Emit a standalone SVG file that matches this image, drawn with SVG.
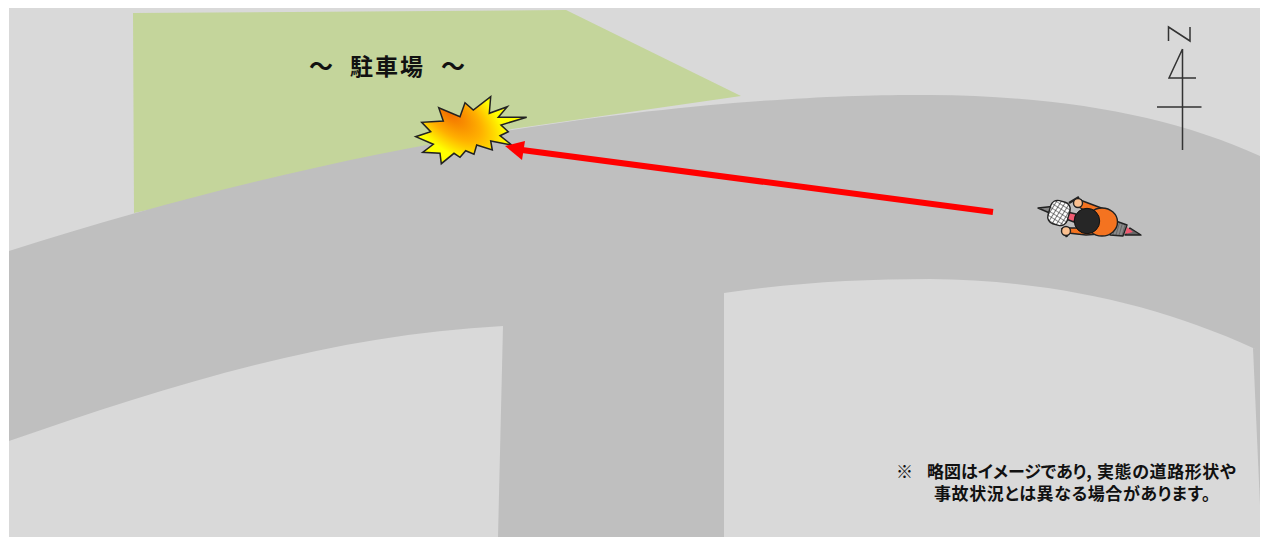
<svg xmlns="http://www.w3.org/2000/svg" width="1267" height="537" viewBox="0 0 1267 537">
<style>
.t{font-family:"Noto Sans CJK JP","Liberation Sans",sans-serif;font-weight:700;fill:#111;font-feature-settings:"palt"}
.n{fill:none;stroke:#333;stroke-width:1.5}
.o{stroke:#222;stroke-width:1.4;stroke-linejoin:round}
</style>
<defs>
<radialGradient id="b" gradientUnits="userSpaceOnUse" cx="0" cy="0" r="1" gradientTransform="translate(449 112) rotate(40) scale(70 34)"><stop offset="0" stop-color="#f26c00"/><stop offset="0.55" stop-color="#ffb000"/><stop offset="1" stop-color="#ffff00"/></radialGradient>
<pattern id="c" width="4" height="4" patternUnits="userSpaceOnUse" patternTransform="rotate(16)"><rect width="4" height="4" fill="#fff"/><path d="M0 0H4M0 0V4" stroke="#222" stroke-width="1.200"/></pattern>
<pattern id="h" width="3" height="3" patternUnits="userSpaceOnUse" patternTransform="rotate(16)"><rect width="3" height="3" fill="#8a8a8a"/><path d="M0 0V3" stroke="#444" stroke-width="1"/></pattern>
</defs>
<rect width="1267" height="537" fill="#fff"/>
<g id="ground"><rect x="9" y="8" width="1251" height="529" fill="#d9d9d9"/></g>
<g id="parking"><path d="M133 13L566 10L741 96L512 129L134 213Z" fill="#c4d59b"/></g>
<g id="road"><path d="M9 251C180 197 330 160 512 130C700 100 850 94 930 95C1060 96 1170 115 1260 156V351L1253 348C1160 305 1050 280 930 279C860 279 790 283 724 293V537H498L503 326C330 335 170 385 9 441Z" fill="#bfbfbf"/>
<path d="M1253 348L1260 350V505Z" fill="#bfbfbf"/></g>
<g id="north">
<path class="n" d="M1168.500 41V27L1190 41V27M1182.500 49V150M1182.500 49L1169 78H1196M1157 107H1201.500"/>
</g>
<g id="burst"><path d="M438.700 107.700L460 116.700L465 102.700L473.300 110L490.700 96.700L489.300 113.300L507.300 106.700L498.300 117.300L526.700 117.300L501 125L508.300 131.700L500 135.700L511.700 145L490.700 141L492.300 150L476.700 145L474 154.300L465.700 150.700L460 157.300L454 153.300L441.300 163.700L440 153.300L422.700 152.300L433.300 144.300L415.700 136.700L430.700 131.700L421.700 122.300L443.300 121Z" fill="url(#b)" stroke="#222" stroke-width="1.500"/></g>
<g id="connectors"><path d="M993 212L522 150" stroke="#ff0000" stroke-width="6" fill="none"/><path d="M505 146L525 141L522 160Z" fill="#ff0000"/></g>
<g id="rider">
<path d="M1038 208L1052 206.500L1052 214Z" fill="#888" class="o"/>
<path d="M1130 228L1141 235L1125 235Z" fill="#666" class="o"/>
<path d="M1127 227L1133 232L1125 234Z" fill="#f05a70"/>
<path d="M1113 220L1127 225L1123 236L1110 235Z" fill="url(#h)" class="o"/>
<path d="M1067 212L1076 214L1074 222L1066 219Z" fill="#f05a70" class="o"/>
<path d="M1079 197L1069 203M1062 228L1067 237" stroke="#222" stroke-width="2.500" fill="none"/>
<rect x="1049" y="201" width="20" height="24" rx="7" transform="rotate(16 1059 213)" fill="url(#c)" class="o"/>
<path d="M1080 200L1104 209L1108 222L1100 234L1086 235L1068 233L1068 228L1083 228L1084 210L1077 206Z" fill="#f47320" class="o"/>
<ellipse cx="1102" cy="222" rx="15.500" ry="14" fill="#f47320" class="o"/>
<circle cx="1078" cy="203" r="4.500" fill="#fac090" class="o"/>
<circle cx="1066" cy="231" r="4.500" fill="#fac090" class="o"/>
<circle cx="1087" cy="221" r="12.700" fill="#262626" stroke="#111"/>
</g>
<g id="labels">
<text class="t" x="309" y="75" font-size="24">〜</text>
<text class="t" x="350" y="75" font-size="23" letter-spacing="2">駐車場</text>
<text class="t" x="441" y="75" font-size="24">〜</text>
<text class="t" font-size="17"><tspan x="896" y="478">※</tspan><tspan x="927" y="478">略図はイメージであり,</tspan><tspan x="1097" y="478" letter-spacing="0.600">実態の道路形状や</tspan><tspan x="934" y="500" letter-spacing="0.600">事故状況とは異なる場合があります。</tspan></text>
</g>
</svg>
